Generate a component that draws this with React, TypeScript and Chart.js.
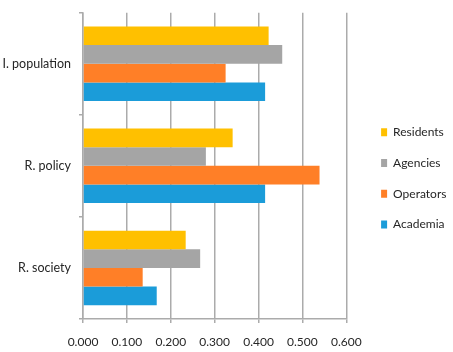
import React, { useEffect, useRef } from 'react';
import { Chart, registerables } from 'chart.js';

Chart.register(...registerables);

const categories = ['I. population', 'R. policy', 'R. society'];
const seriesNames = ['Residents', 'Agencies', 'Operators', 'Academia'];
const residents = [0.423, 0.341, 0.234];
const agencies = [0.454, 0.28, 0.267];
const operators = [0.325, 0.539, 0.136];
const academia = [0.415, 0.415, 0.168];
const seriesColors = ['#FFC000', '#A5A5A5', '#FF7F27', '#1B9CD9'];
const xMin = 0;
const xMax = 0.6;
const xStep = 0.1;

const FONT = 'Lato, "Open Sans", sans-serif';
const TEXT = '#262626';
const GRID = '#ABABAB';

const legendShift = {
  id: 'legendShift',
  afterInit(chart: any) {
    const lg = chart.legend;
    if (!lg) return;
    const fit = lg.fit.bind(lg);
    lg.fit = function () {
      fit();
      this.width = 106.7;
    };
    const draw = lg.draw.bind(lg);
    lg.draw = function (...args: any[]) {
      chart.ctx.save();
      chart.ctx.translate(16, -4);
      draw(...args);
      chart.ctx.restore();
    };
  },
};

export default function App() {
  const ref = useRef<HTMLCanvasElement | null>(null);

  useEffect(() => {
    if (!ref.current) return;
    const values = [residents, agencies, operators, academia];
    const chart = new Chart(ref.current, {
      type: 'bar',
      data: {
        labels: categories,
        datasets: seriesNames.map((name, i) => ({
          label: name,
          data: values[i],
          backgroundColor: seriesColors[i],
          borderWidth: 0,
          categoryPercentage: 0.73,
          barPercentage: 1,
        })),
      },
      options: {
        indexAxis: 'y',
        animation: false,
        responsive: true,
        maintainAspectRatio: false,
        layout: { padding: { top: 12.7, bottom: 0, left: 0, right: 0 } },
        plugins: {
          tooltip: { enabled: false },
          legend: {
            position: 'right',
            labels: {
              boxWidth: 6,
              boxHeight: 8,
              padding: 18.8,
              color: TEXT,
              font: { family: FONT, size: 12 },
            },
          },
        },
        scales: {
          x: {
            min: xMin,
            max: xMax,
            ticks: {
              stepSize: xStep,
              padding: 12,
              color: TEXT,
              font: { family: FONT, size: 12 },
              callback: (v: any) => Number(v).toFixed(3),
            },
            grid: {
              color: GRID,
              lineWidth: 1.5,
              drawTicks: true,
              tickLength: 4,
            },
            border: { display: true, color: GRID, width: 1.5 },
            afterFit: (scale: any) => {
              scale.height = 33;
            },
          },
          y: {
            ticks: {
              padding: 8,
              color: TEXT,
              font: { family: FONT, size: 12.5 },
            },
            grid: {
              display: true,
              drawOnChartArea: false,
              drawTicks: true,
              tickLength: 4,
              offset: true,
              color: GRID,
              lineWidth: 1.5,
            },
            border: { display: true, color: GRID, width: 1.5 },
            afterFit: (scale: any) => {
              scale.width = 83;
              scale.paddingTop = 0;
              scale.paddingBottom = 0;
            },
          },
        },
      },
      plugins: [legendShift],
    });
    return () => chart.destroy();
  }, []);

  return (
    <div style={{ position: 'fixed', left: 0, top: 0, width: 453, height: 352, background: '#fff' }}>
      <canvas ref={ref} />
    </div>
  );
}
